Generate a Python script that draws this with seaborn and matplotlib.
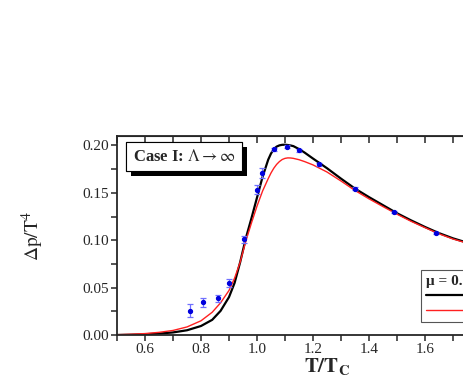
import matplotlib
matplotlib.use('Agg')
import matplotlib.pyplot as plt
import matplotlib.patheffects as pe
from matplotlib.ticker import MultipleLocator
import seaborn as sns
import pandas as pd

# lattice data points (T/Tc, Delta p / T^4, error)
lat_t = [0.761, 0.808, 0.861, 0.900, 0.952, 1.000, 1.019, 1.061, 1.106, 1.151, 1.223, 1.351, 1.489, 1.638]
lat_p = [0.0256, 0.0344, 0.0386, 0.0550, 0.1010, 0.1534, 0.1709, 0.1958, 0.1989, 0.1947, 0.1803, 0.1544, 0.1295, 0.1077]
lat_err = [0.0070, 0.0050, 0.0035, 0.0040, 0.0040, 0.0050, 0.0050, 0.0020, 0.0015, 0.0015, 0.0015, 0.0015, 0.0010, 0.0010]

# model curves
curve_t = [0.50, 0.55, 0.60, 0.65, 0.70, 0.75, 0.80, 0.84, 0.87, 0.90, 0.92, 0.94, 0.96, 0.98,
           1.00, 1.02, 1.04, 1.05, 1.06, 1.07, 1.08, 1.09, 1.10, 1.11, 1.12, 1.13, 1.15, 1.17,
           1.20, 1.25, 1.30, 1.35, 1.40, 1.45, 1.50, 1.55, 1.60, 1.65, 1.70, 1.75, 1.80, 1.90, 2.00]
black_p = [0.0000, 0.0003, 0.0008, 0.0015, 0.0027, 0.0050, 0.0095, 0.0160, 0.0255, 0.0400, 0.0550,
           0.0770, 0.1020, 0.1230, 0.1450, 0.1670, 0.1850, 0.1915, 0.1960, 0.1988, 0.2001, 0.2007,
           0.2008, 0.2005, 0.2000, 0.1993, 0.1962, 0.1925, 0.1862, 0.1760, 0.1650, 0.1545, 0.1455,
           0.1370, 0.1285, 0.1210, 0.1140, 0.1075, 0.1020, 0.0975, 0.0930, 0.0850, 0.0780]
red_p = [0.0003, 0.0008, 0.0015, 0.0028, 0.0048, 0.0085, 0.0150, 0.0240, 0.0340, 0.0470, 0.0600,
         0.0770, 0.0990, 0.1180, 0.1360, 0.1520, 0.1650, 0.1710, 0.1760, 0.1800, 0.1830, 0.1852,
         0.1864, 0.1869, 0.1868, 0.1864, 0.1850, 0.1830, 0.1795, 0.1720, 0.1625, 0.1525, 0.1437,
         0.1355, 0.1275, 0.1200, 0.1133, 0.1068, 0.1013, 0.0970, 0.0925, 0.0845, 0.0775]
legend_title = 'μ = 0.0'
legend_labels = ['Λ → ∞, full', 'Λ → ∞, approx.']


def main():
    sns.set_style('ticks')
    plt.rcParams['font.family'] = ['Liberation Serif', 'DejaVu Serif']
    plt.rcParams['mathtext.fontset'] = 'stix'

    fig = plt.figure(figsize=(4.63, 3.82), dpi=100)
    ax = fig.add_axes([117 / 463, 47 / 382, 420 / 463, 199 / 382])

    df = pd.DataFrame({'t': curve_t, 'black': black_p, 'red': red_p})
    sns.lineplot(data=df, x='t', y='black', color='black', lw=1.6, ax=ax, label=legend_labels[0])
    sns.lineplot(data=df, x='t', y='red', color='#ff2020', lw=1.0, ax=ax, label=legend_labels[1])

    ax.errorbar(lat_t, lat_p, yerr=lat_err, fmt='o', ms=2.8, color='#0000dd',
                ecolor='#7070ff', elinewidth=0.9, capsize=2.5, capthick=0.9, zorder=5)

    ax.set_xlim(0.5, 2.0)
    ax.set_ylim(0, 0.21)
    ax.xaxis.set_major_locator(MultipleLocator(0.2))
    ax.xaxis.set_minor_locator(MultipleLocator(0.1))
    ax.yaxis.set_major_locator(MultipleLocator(0.05))
    ax.yaxis.set_minor_locator(MultipleLocator(0.025))
    ax.xaxis.set_major_formatter(lambda v, p: f'{v:.1f}')
    ax.yaxis.set_major_formatter(lambda v, p: f'{v:.2f}')
    ax.tick_params(which='both', direction='out', length=4, width=1.1, labelsize=11, pad=2)
    for s in ax.spines.values():
        s.set_linewidth(1.3)

    top = ax.secondary_xaxis('top')
    top.xaxis.set_major_locator(MultipleLocator(0.2))
    top.xaxis.set_minor_locator(MultipleLocator(0.1))
    top.tick_params(which='both', direction='in', length=5, width=1.1, labeltop=False)

    ax.set_xlabel(r'$\mathbf{T/T_C}$', fontsize=15, labelpad=0)
    ax.set_ylabel(r'$\Delta\mathrm{p/T}^4$', fontsize=14, labelpad=26)

    t = ax.text(0.5 + 16 / 280, 0.1965, r'Case I: $\Lambda\rightarrow\infty$', fontsize=12,
                fontweight='bold', va='top', ha='left',
                bbox=dict(boxstyle='square,pad=0.4', fc='white', ec='black', lw=0.8))
    t.get_bbox_patch().set_path_effects([
        pe.withSimplePatchShadow(offset=(3.5, -3.5), shadow_rgbFace='black', alpha=1.0), pe.Normal()])

    leg = ax.legend(loc='upper left', bbox_to_anchor=(1.586, 0.0684), bbox_transform=ax.transData,
                    title=legend_title, title_fontproperties={'weight': 'bold', 'size': 11},
                    alignment='left', fontsize=9, frameon=True, fancybox=False, framealpha=1,
                    edgecolor='#555555', handlelength=5, borderpad=0.4, labelspacing=0.2,
                    borderaxespad=0)
    leg.get_frame().set_linewidth(0.8)

    fig.savefig('out.png', dpi=100)


if __name__ == '__main__':
    main()
